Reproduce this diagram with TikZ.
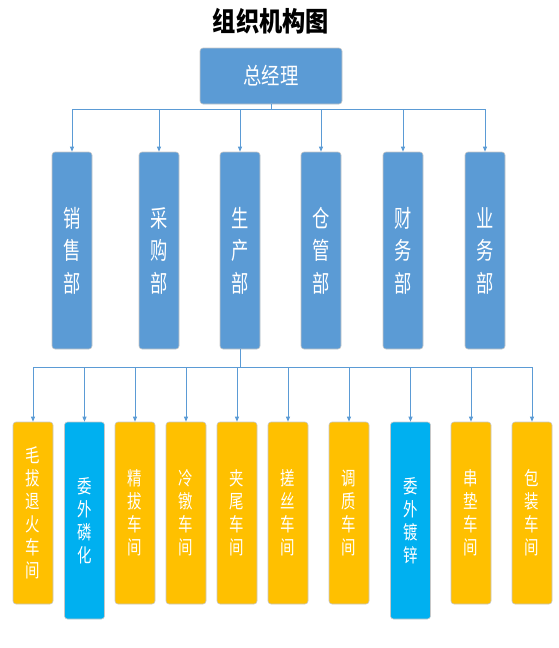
\documentclass[tikz,border=0pt]{standalone}
\usepackage{fontspec}
\newfontfamily\cjktitle[FakeStretch=0.86]{Noto Sans CJK SC}
\newfontfamily\cjkgm[FakeStretch=0.8]{Noto Sans CJK SC}
\newfontfamily\cjkdept[FakeStretch=0.72]{Noto Sans CJK SC}
\newfontfamily\cjkshop[FakeStretch=0.76]{Noto Sans CJK SC}
\usetikzlibrary{arrows.meta}
\definecolor{deptblue}{HTML}{5B9BD5}
\definecolor{shoporange}{HTML}{FFC000}
\definecolor{shopcyan}{HTML}{00B0F0}
\definecolor{linkblue}{HTML}{5B9BD5}
\tikzset{
  box/.style={rounded corners=3pt, draw=black!22, line width=0.6pt, inner sep=0pt, align=center, text=white},
  deptbox/.style={box, fill=deptblue, minimum width=40pt, minimum height=197pt,
    font=\cjkdept\fontsize{24}{32.5}\selectfont},
  shopbox/.style={box, fill=shoporange, minimum width=40pt, minimum height=182pt,
    font=\cjkshop\fontsize{19}{23}\selectfont},
  outbox/.style={box, fill=shopcyan, minimum width=40pt, minimum height=197pt,
    font=\cjkshop\fontsize{19}{23}\selectfont},
  link/.style={draw=linkblue, line width=0.8pt},
  arr/.style={link, -{Triangle[length=5pt,width=4pt]}}
}
\begin{document}
\begin{tikzpicture}[x=1pt,y=-1pt]
\useasboundingbox (0,0) rectangle (558,648);
\node[font=\cjktitle\bfseries\fontsize{27}{29}\selectfont] (title) at (271,21) {组织机构图};
\node[box, fill=deptblue, minimum width=142pt, minimum height=56pt,
  font=\cjkgm\fontsize{23}{25}\selectfont] (gm) at (271,76) {总经理};
% departments
\node[deptbox] (d1) at (72,250.5) {销\\售\\部};
\node[deptbox] (d2) at (159,250.5) {采\\购\\部};
\node[deptbox] (d3) at (240,250.5) {生\\产\\部};
\node[deptbox] (d4) at (321,250.5) {仓\\管\\部};
\node[deptbox] (d5) at (403,250.5) {财\\务\\部};
\node[deptbox] (d6) at (485,250.5) {业\\务\\部};
% workshops
\node[shopbox] (w1) at (33,513) {毛\\拔\\退\\火\\车\\间};
\node[outbox]  (w2) at (84.5,520.5) {委\\外\\磷\\化};
\node[shopbox] (w3) at (135,513) {精\\拔\\车\\间};
\node[shopbox] (w4) at (186,513) {冷\\镦\\车\\间};
\node[shopbox] (w5) at (237,513) {夹\\尾\\车\\间};
\node[shopbox] (w6) at (288,513) {搓\\丝\\车\\间};
\node[shopbox] (w7) at (349,513) {调\\质\\车\\间};
\node[outbox]  (w8) at (410.5,520.5) {委\\外\\镀\\锌};
\node[shopbox] (w9) at (471,513) {串\\垫\\车\\间};
\node[shopbox] (w10) at (532,513) {包\\装\\车\\间};
% connectors
\coordinate (bus1) at (271,109);
\coordinate (bus2) at (240,367);
\draw[link] (gm.south) -- (bus1);
\foreach \d in {d1,d2,d3,d4,d5,d6} \draw[arr] (bus1) -| (\d.north);
\draw[link] (d3.south) -- (bus2);
\foreach \w in {w1,w2,w3,w4,w5,w6,w7,w8,w9,w10} \draw[arr] (bus2) -| (\w.north);
\end{tikzpicture}
\end{document}
